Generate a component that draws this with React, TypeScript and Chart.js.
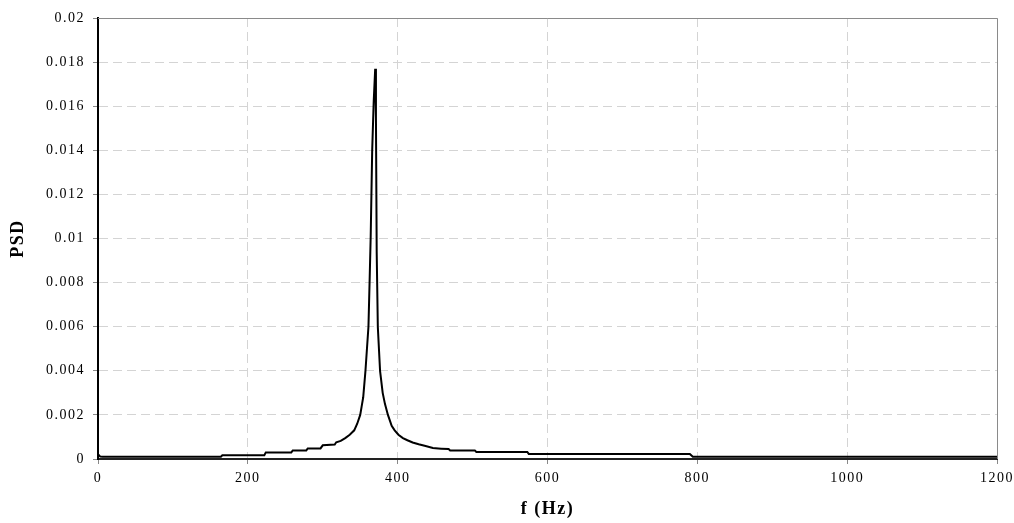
import React, { useEffect, useRef } from "react";
import { Chart, registerables } from "chart.js";

Chart.register(...registerables);

const freqHz: number[] = [
  0, 3, 6, 164, 166, 222, 224, 258, 260, 278, 280, 297, 300, 316, 318, 324, 330,
  336, 342, 346, 350, 352, 354, 357, 359, 361, 362.5, 364, 366, 368, 370, 371,
  372, 373.5, 376.5, 380, 383, 387, 392, 396, 401, 407, 413, 420, 428, 436, 447,
  458, 468, 470, 503, 505, 573, 575, 790, 794, 1200,
];

const psdValues: number[] = [
  0.00022, 0.00011, 0.0001, 0.0001, 0.00017, 0.00017, 0.0003, 0.0003, 0.00039,
  0.00039, 0.00048, 0.00048, 0.00062, 0.00066, 0.00076, 0.00082, 0.00095, 0.0011,
  0.0013, 0.0016, 0.002, 0.0024, 0.0028, 0.004, 0.005, 0.006, 0.008, 0.0101,
  0.014, 0.0162, 0.0177, 0.0155, 0.0094, 0.006, 0.004, 0.003, 0.0025, 0.002,
  0.0015, 0.0013, 0.0011, 0.00095, 0.00085, 0.00075, 0.00067, 0.0006, 0.0005,
  0.00047, 0.00045, 0.00039, 0.00039, 0.00032, 0.00032, 0.00023, 0.00023, 0.0001,
  0.0001,
];

const xTickLabels: string[] = ["0", "200", "400", "600", "800", "1000", "1200"];
const yTickLabels: string[] = [
  "0", "0.002", "0.004", "0.006", "0.008", "0.01", "0.012", "0.014", "0.016",
  "0.018", "0.02",
];

const xTitle = "f (Hz)";
const yTitle = "PSD";

const FONT = "'Liberation Serif', 'Times New Roman', serif";

const spacingPlugin = {
  id: "letterSpacing",
  beforeLayout(chart: any) {
    (chart.ctx as any).letterSpacing = "1.5px";
  },
  beforeDraw(chart: any) {
    (chart.ctx as any).letterSpacing = "1.5px";
  },
};

const framePlugin = {
  id: "frame",
  afterDraw(chart: any) {
    const { ctx, chartArea } = chart;
    ctx.save();
    ctx.strokeStyle = "#8a8a8a";
    ctx.lineWidth = 1;
    ctx.setLineDash([]);
    ctx.beginPath();
    ctx.moveTo(chartArea.left, chartArea.top + 0.5);
    ctx.lineTo(chartArea.right + 0.5, chartArea.top + 0.5);
    ctx.lineTo(chartArea.right + 0.5, chartArea.bottom);
    ctx.stroke();
    ctx.restore();
  },
};

export default function App() {
  const canvasRef = useRef<HTMLCanvasElement | null>(null);

  useEffect(() => {
    if (!canvasRef.current) return;
    const points = freqHz.map((f, i) => ({ x: f, y: psdValues[i] }));
    const chart = new Chart(canvasRef.current, {
      type: "line",
      data: {
        datasets: [
          {
            data: points,
            borderColor: "#000000",
            borderWidth: 2,
            pointRadius: 0,
            tension: 0,
            fill: false,
          },
        ],
      },
      plugins: [spacingPlugin, framePlugin],
      options: {
        animation: false,
        responsive: true,
        maintainAspectRatio: false,
        layout: { padding: { left: 0, top: 18, right: 17, bottom: 0 } },
        plugins: {
          legend: { display: false },
          tooltip: { enabled: false },
        },
        scales: {
          x: {
            type: "linear",
            min: 0,
            max: 1200,
            afterFit(scale: any) {
              scale.height = 64;
              scale.paddingLeft = 0;
              scale.paddingRight = 0;
            },
            afterBuildTicks(scale: any) {
              scale.ticks = xTickLabels.map((t) => ({ value: Number(t) }));
            },
            ticks: {
              autoSkip: false,
              maxRotation: 0,
              padding: 6,
              color: "#000000",
              font: { family: FONT, size: 14 },
              callback: (_v: any, i: number) => xTickLabels[i],
            },
            grid: {
              color: "#d4d4d4",
              lineWidth: 1,
              tickLength: 5,
              tickColor: "#888888",
              drawTicks: true,
            },
            border: { display: true, color: "#222222", width: 2, dash: [9, 5] },
            title: {
              display: true,
              text: xTitle,
              color: "#000000",
              font: { family: FONT, size: 18, weight: "bold" },
              padding: { top: 0, bottom: 3 },
            },
          },
          y: {
            type: "linear",
            min: 0,
            max: 0.02,
            afterFit(scale: any) {
              scale.width = 98;
            },
            afterBuildTicks(scale: any) {
              scale.ticks = yTickLabels.map((t) => ({ value: Number(t) }));
            },
            ticks: {
              autoSkip: false,
              padding: 8,
              color: "#000000",
              font: { family: FONT, size: 14 },
              callback: (_v: any, i: number) => yTickLabels[i],
            },
            grid: {
              color: "#d4d4d4",
              lineWidth: 1,
              tickLength: 5,
              tickColor: "#888888",
              drawTicks: true,
            },
            border: { display: true, color: "#000000", width: 2, dash: [9, 5] },
            title: {
              display: true,
              text: yTitle,
              color: "#000000",
              font: { family: FONT, size: 18, weight: "bold" },
              padding: { top: 8, bottom: 0 },
            },
          },
        },
      },
    });
    return () => chart.destroy();
  }, []);

  return (
    <div style={{ position: "fixed", left: 0, top: 0, width: 1014, height: 523, background: "#ffffff" }}>
      <canvas ref={canvasRef} />
    </div>
  );
}
